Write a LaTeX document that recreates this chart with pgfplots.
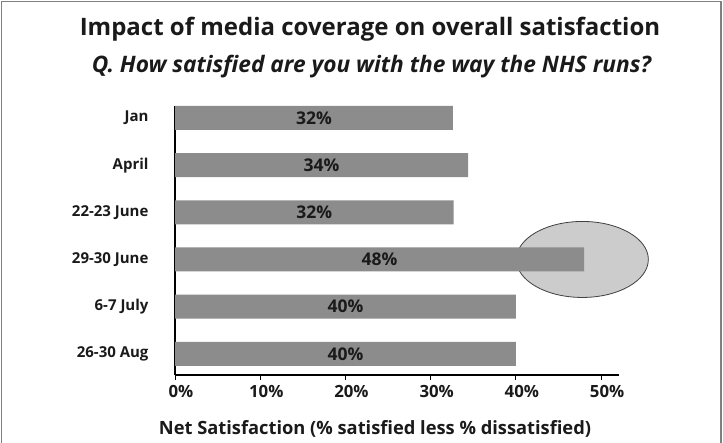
\documentclass[border=0pt]{standalone}
\usepackage{pgfplots}
\pgfplotsset{compat=1.18}
\usepackage{pgfplotstable}
\usepackage{fontspec}
\setmainfont{Open Sans}
\definecolor{bargray}{HTML}{8C8C8C}
\definecolor{ellfill}{HTML}{CCCCCC}
\definecolor{ellline}{HTML}{404040}
\definecolor{framegray}{HTML}{808080}
\definecolor{txt}{HTML}{1A1A1A}

\pgfplotstableread{
pos value label
5 32.6 32
4 34.4 34
3 32.7 32
2 48.0 48
1 40.0 40
0 40.0 40
}\datatable

\begin{document}
\begin{tikzpicture}
\useasboundingbox (0pt,0pt) rectangle (723pt,-442pt);
\draw[framegray, line width=1.8pt] (1.5pt,-446pt) -- (1.5pt,-1.5pt) -- (721pt,-1.5pt) -- (721pt,-446pt);
\node[anchor=base, font=\bfseries\fontsize{24}{28}\selectfont, text=txt] at (370pt,-35pt) {Impact of media coverage on overall satisfaction};
\node[anchor=base, font=\bfseries\itshape\fontsize{22.7}{27}\selectfont, text=txt] at (371.5pt,-72.5pt) {Q. How satisfied are you with the way the NHS runs?};
\node[anchor=base, font=\bfseries\fontsize{18.3}{21}\selectfont, text=txt] at (375pt,-434pt) {Net Satisfaction (\% satisfied less \% dissatisfied)};
\begin{axis}[
  at={(175pt,-375pt)}, anchor=south west,
  scale only axis, width=444pt, height=269.3pt,
  xmin=0, xmax=52.1, ymin=-0.45, ymax=5.26,
  axis lines*=left,
  axis line style={black, line width=1.2pt},
  clip=false,
  xtick={0,10,20,30,40,50},
  xticklabels={0\%,10\%,20\%,30\%,40\%,50\%},
  ytick={0,1,2,3,4,5},
  yticklabels={26-30 Aug,6-7 July,29-30 June,22-23 June,April,Jan},
  tick align=outside,
  major tick length=5pt,
  x tick style={black, line width=1pt},
  y tick style={draw=none},
  x tick label style={font=\bfseries\fontsize{16.8}{19}\selectfont, text=txt, xshift=6pt, yshift=-2pt},
  y tick label style={font=\bfseries\fontsize{15}{17}\selectfont, text=txt, xshift=-18pt},
  /pgf/number format/assume math mode=true,
]
\draw[ellline, fill=ellfill, line width=0.8pt] (axis cs:47.8,2) ellipse [x radius=66pt, y radius=38pt];
\addplot[xbar, fill=bargray, draw=none, bar width=24pt, bar shift=0pt] table[x=value, y=pos] {\datatable};
\addplot[draw=none, mark=none, nodes near coords={\pgfplotspointmeta\%}, point meta=explicit symbolic,
  nodes near coords style={anchor=center, font=\bfseries\fontsize{17.5}{20}\selectfont, text=txt}]
  table[x expr=\thisrow{value}/2, y=pos, meta=label] {\datatable};
\end{axis}
\end{tikzpicture}
\end{document}
